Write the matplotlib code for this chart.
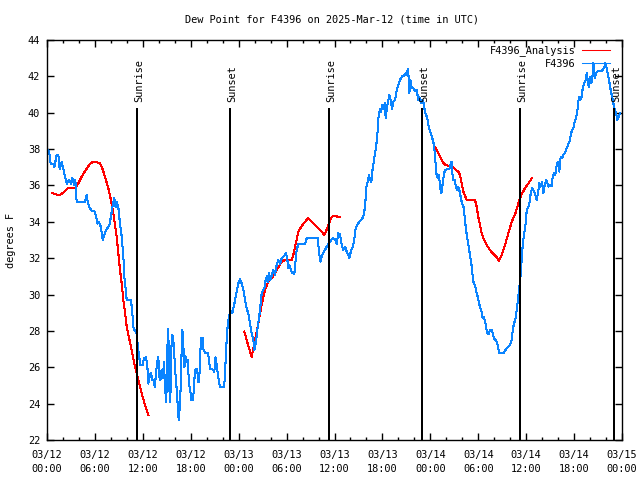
import pandas as pd
import matplotlib
matplotlib.use("Agg")
import matplotlib.pyplot as plt
import matplotlib.dates as mdates
import matplotlib.transforms as mtransforms

plt.rcParams['font.family'] = ['DejaVu Sans Mono']
plt.rcParams['font.size'] = 7.4

INICIO = pd.Timestamp("2025-03-12 00:00")

# observacoes da estacao (horas desde 03/12 00:00 UTC, ponto de orvalho em F)
obs_horas = [
    0.0, 0.25, 0.46, 0.8, 0.92, 1.21, 1.42, 1.59, 1.84, 2.04, 2.25, 2.5, 2.75, 3.0, 3.17, 3.42, 3.55, 3.71,
    4.76, 4.97, 5.1, 5.3, 5.59, 5.93, 6.09, 6.34, 6.5, 6.76, 6.97, 7.18, 7.47, 7.8, 8.01, 8.22, 8.43, 8.6,
    8.75, 8.93, 9.14, 9.35, 9.56, 9.68, 9.85, 9.98, 10.52, 10.68, 10.85, 11.02, 11.2, 11.31, 11.35, 11.52,
    11.65, 11.95, 12.15, 12.4, 12.56, 12.69, 12.85, 13.02, 13.19, 13.36, 13.5, 13.65, 13.81, 13.94, 14.06,
    14.2, 14.35, 14.5, 14.65, 14.78, 14.94, 15.06, 15.19, 15.3, 15.44, 15.56, 15.69, 15.85, 15.98, 16.12,
    16.28, 16.4, 16.49, 16.6, 16.74, 16.86, 16.95, 17.1, 17.2, 17.35, 17.45, 17.6, 17.7, 17.85, 17.98,
    18.03, 18.3, 18.44, 18.6, 18.8, 18.95, 19.05, 19.16, 19.28, 19.5, 19.6, 19.8, 20.1, 20.25, 20.41, 20.7,
    20.95, 21.1, 21.25, 21.4, 21.66, 22.16, 22.28, 22.41, 22.57, 22.75, 22.92, 23.1, 23.2, 23.46, 23.75,
    23.95, 24.17, 24.38, 24.6, 24.8, 25.0, 25.2, 25.42, 25.63, 25.84, 25.96, 26.09, 26.26, 26.38, 26.55,
    26.71, 26.88, 27.05, 27.22, 27.38, 27.55, 27.63, 27.8, 27.97, 28.13, 28.34, 28.55, 28.76, 28.97, 29.18,
    29.39, 29.6, 29.8, 29.93, 30.1, 30.22, 30.39, 30.55, 30.72, 30.97, 31.14, 31.26, 31.47, 32.3, 32.52,
    33.9, 34.06, 34.23, 34.4, 34.6, 34.81, 35.02, 35.23, 35.44, 35.65, 35.85, 36.06, 36.28, 36.48, 36.69,
    36.9, 37.1, 37.32, 37.53, 37.73, 37.85, 38.07, 38.28, 38.44, 38.65, 38.86, 39.1, 39.4, 39.6, 39.73,
    39.86, 39.95, 40.16, 40.32, 40.45, 40.61, 40.73, 40.85, 40.98, 41.11, 41.28, 41.41, 41.53, 41.7, 41.82,
    41.95, 42.11, 42.29, 42.41, 42.54, 42.7, 42.87, 43.04, 43.2, 43.36, 43.58, 43.79, 44.0, 44.2, 44.5,
    44.7, 44.9, 45.05, 45.17, 45.3, 45.37, 45.5, 45.66, 45.87, 46.08, 46.29, 46.5, 46.62, 46.8, 46.95,
    47.12, 47.29, 47.45, 47.6, 47.83, 48.05, 48.25, 48.46, 48.62, 48.8, 48.96, 49.09, 49.21, 49.38, 49.55,
    49.71, 49.88, 50.12, 50.37, 50.55, 50.68, 50.75, 50.88, 51.05, 51.21, 51.38, 51.5, 51.63, 51.8, 51.97,
    52.13, 52.3, 52.47, 52.63, 52.8, 52.97, 53.13, 53.26, 53.38, 53.59, 53.76, 53.93, 54.1, 54.26, 54.43,
    54.56, 54.72, 54.85, 54.97, 55.1, 55.31, 55.47, 55.64, 55.81, 55.97, 56.14, 56.31, 56.47, 56.64, 57.14,
    57.35, 57.56, 57.77, 57.98, 58.19, 58.32, 58.48, 58.64, 58.82, 58.98, 59.1, 59.23, 59.35, 59.48, 59.64,
    59.82, 59.94, 60.07, 60.27, 60.4, 60.57, 60.73, 60.9, 61.11, 61.32, 61.48, 61.65, 61.82, 61.99, 62.15,
    62.32, 62.49, 62.65, 62.82, 62.99, 63.2, 63.32, 63.49, 63.65, 63.83, 63.99, 64.15, 64.32, 64.49, 64.65,
    64.82, 64.99, 65.15, 65.33, 65.49, 65.61, 65.78, 65.9, 66.08, 66.24, 66.4, 66.53, 66.65, 66.74, 66.95,
    67.08, 67.24, 67.41, 67.58, 67.71, 67.83, 68.0, 68.16, 68.33, 68.41, 68.58, 68.74, 68.91, 69.24, 69.49,
    69.74, 69.91, 70.09, 70.25, 70.41, 70.58, 70.75, 70.91, 71.09, 71.25, 71.42, 71.59, 71.76,
]
obs_orvalho = [
    38.0, 37.9, 37.2, 37.2, 37.0, 37.7, 37.7, 36.9, 37.3, 36.9, 36.5, 36.1, 36.3, 36.1, 36.4, 36.0, 36.3, 35.1,
    35.1, 35.5, 35.1, 34.8, 34.6, 34.6, 34.4, 33.9, 34.0, 33.7, 33.0, 33.3, 33.6, 33.8, 34.3, 34.9, 35.3, 34.8,
    35.1, 34.8, 33.9, 33.2, 32.1, 31.0, 30.3, 29.7, 29.7, 29.0, 28.1, 28.0, 27.9, 27.7, 27.0, 26.8,
    26.1, 26.1, 26.5, 26.55, 26.1, 25.1, 25.5, 25.7, 25.3, 25.3, 24.9, 25.7, 26.3, 26.55, 25.5,
    25.3, 25.85, 25.4, 26.3, 24.8, 24.1, 26.95, 28.1, 24.9, 24.1, 27.0, 27.8, 27.3, 26.4, 25.4,
    24.6, 23.6, 23.1, 23.7, 24.9, 26.95, 28.05, 26.95, 26.0, 26.6, 26.3, 26.4, 25.7, 24.9, 24.6,
    24.2, 24.2, 25.3, 25.9, 25.9, 25.2, 25.2, 26.4, 27.6, 27.6, 26.95, 26.8, 26.8, 26.55, 25.9, 25.9,
    25.75, 26.55, 26.1, 25.6, 24.9, 24.9, 25.5, 26.8, 28.05, 28.7, 29.0, 29.1, 28.97, 29.5, 30.16,
    30.6, 30.84, 30.6, 30.25, 29.7, 29.24, 28.97, 28.4, 27.87, 27.5, 26.95, 27.23, 27.7, 28.23, 28.7,
    29.33, 30.07, 30.25, 30.34, 30.8, 31.0, 30.7, 31.2, 30.8, 31.0, 31.35, 31.1, 31.63, 31.9, 31.7,
    32.0, 32.1, 32.17, 32.3, 31.9, 31.45, 31.6, 31.35, 31.17, 31.15, 31.9, 32.45, 32.78, 32.78, 33.09,
    33.09, 32.36, 31.81, 32.08, 32.3, 32.45, 32.63, 32.78, 32.9, 33.04, 33.09, 33.04, 32.8, 33.37, 33.3,
    32.73, 32.45, 32.63, 32.36, 32.18, 32.0, 32.4, 32.63, 32.9, 33.64, 33.83, 34.0, 34.14, 34.28, 34.56,
    35.0, 35.84, 36.2, 36.58, 36.3, 36.2, 36.76, 37.13, 37.5, 37.86, 38.41, 39.05, 39.88, 40.2, 40.05,
    40.43, 40.2, 40.52, 39.7, 40.2, 40.6, 40.98, 40.7, 40.2, 40.6, 40.7, 41.25, 41.53, 41.8, 42.02,
    42.02, 42.17, 42.1, 42.39, 41.9, 41.07, 41.8, 41.4, 41.35, 41.2, 41.25, 40.7, 40.87, 40.55, 40.7,
    40.6, 40.15, 39.88, 39.75, 39.14, 38.87, 38.59, 38.23, 37.4, 36.48, 36.4, 36.6, 35.93, 35.57, 36.1,
    36.67, 36.85, 36.9, 36.9, 37.2, 37.31, 36.67, 36.3, 36.3, 35.93, 35.75, 35.93, 35.75, 35.38, 35.0,
    34.9, 34.28, 33.55, 33.09, 32.63, 32.18, 31.72, 31.17, 30.71, 30.5, 30.16, 29.88, 29.52, 29.24, 29.05,
    28.69, 28.78, 28.5, 28.3, 27.87, 27.85, 28.05, 28.07, 27.87, 27.59, 27.5, 27.41, 27.14, 26.77, 26.77,
    26.92, 27.04, 27.14, 27.23, 27.5, 28.05, 28.42, 28.6, 29.15, 29.79, 30.25, 30.71, 31.26, 32.27, 33.0,
    33.55, 33.92, 34.65, 34.83, 35.0, 35.57, 35.84, 35.75, 35.57, 35.2, 35.57, 36.12, 35.94, 36.2, 35.57,
    36.0, 36.3, 36.12, 35.94, 36.0, 35.97, 36.48, 36.67, 36.58, 37.13, 37.3, 36.76, 37.58, 37.5, 37.68,
    37.77, 37.95, 38.13, 38.32, 38.5, 38.87, 39.05, 39.14, 39.51, 39.69, 40.06, 40.61, 40.88, 40.7, 40.88,
    41.34, 41.62, 41.7, 42.17, 41.8, 41.43, 41.98, 41.62, 42.08, 42.72, 41.9, 42.17, 42.26, 42.3, 42.3,
    42.45, 42.72, 42.45, 42.08, 41.7, 41.25, 40.88, 40.52, 40.15, 39.97, 39.6, 39.78, 39.97,
]

# analise (tres trechos de ~12 h)
ana_horas_1 = [0.67, 1.1, 1.55, 2.05, 2.59, 3.5, 3.92, 4.34, 4.85, 5.3, 5.72, 6.2, 6.64, 6.93, 7.26, 7.68,
               8.01, 8.3, 8.51, 8.73, 8.93, 9.14, 9.35, 9.56, 9.77, 9.98, 10.18, 10.6, 11.02, 11.43, 11.85,
               12.27, 12.69]
ana_orvalho_1 = [35.57, 35.52, 35.46, 35.6, 35.84, 35.84, 36.12, 36.48, 36.85, 37.13, 37.31, 37.28, 37.22,
                 36.94, 36.48, 35.84, 35.2, 34.47, 33.83, 33.18, 32.27, 31.35, 30.62, 29.7, 29.0, 28.23,
                 27.8, 26.95, 26.03, 25.3, 24.57, 23.93, 23.38]
ana_horas_2 = [24.71, 25.0, 25.3, 25.63, 25.84, 26.13, 26.46, 26.88, 27.3, 27.71, 28.13, 28.55, 28.97,
               29.39, 29.8, 30.64, 30.84, 31.06, 31.26, 31.47, 31.89, 32.3, 32.72, 33.14, 33.55, 33.97,
               34.39, 34.73, 35.02, 35.31, 35.65, 36.06, 36.69]
ana_orvalho_2 = [27.96, 27.5, 27.04, 26.58, 27.04, 27.69, 28.42, 29.43, 30.25, 30.71, 30.89, 31.17, 31.5,
                 31.8, 31.9, 31.9, 32.18, 32.63, 33.0, 33.46, 33.77, 34.0, 34.19, 34.0, 33.83, 33.64,
                 33.46, 33.28, 33.58, 33.92, 34.28, 34.32, 34.25]
ana_horas_3 = [48.59, 49.0, 49.42, 49.71, 50.25, 50.68, 51.09, 51.5, 51.71, 51.93, 52.13, 52.56, 53.6,
               53.8, 54.0, 54.22, 54.43, 54.64, 55.05, 55.47, 55.89, 56.31, 56.6, 56.93, 57.35, 57.77,
               58.19, 58.6, 59.02, 59.35, 59.85, 60.27, 60.69]
ana_orvalho_3 = [38.13, 37.77, 37.4, 37.18, 37.07, 37.07, 36.89, 36.76, 36.58, 36.12, 35.66, 35.2, 35.2,
                 34.83, 34.28, 33.83, 33.37, 33.09, 32.73, 32.45, 32.23, 32.05, 31.85, 32.18, 32.73, 33.37,
                 34.0, 34.4, 35.0, 35.45, 35.85, 36.1, 36.39]

# nascer / por do sol
eventos_horas = [11.32, 22.97, 35.3, 46.98, 59.27, 71.02]
eventos_nomes = ["Sunrise", "Sunset", "Sunrise", "Sunset", "Sunrise", "Sunset"]


def para_tempo(horas):
    return INICIO + pd.to_timedelta(horas, unit="h")


fig = plt.figure(figsize=(6.4, 4.8), dpi=100)
ax = fig.add_axes([47 / 640, 40 / 480, 575 / 640, 400 / 480])

cor_ana = "#ff0000"
cor_obs = "#0a84ff"

trechos = [(ana_horas_1, ana_orvalho_1), (ana_horas_2, ana_orvalho_2), (ana_horas_3, ana_orvalho_3)]
for i, (h, v) in enumerate(trechos):
    ax.plot(para_tempo(h), v, color=cor_ana, lw=0.75, antialiased=False,
            label="F4396_Analysis" if i == 0 else None)
ax.plot(para_tempo(obs_horas), obs_orvalho, color=cor_obs, lw=0.75, antialiased=False, label="F4396")

trans = mtransforms.blended_transform_factory(ax.transData, ax.transAxes)
for h, nome in zip(eventos_horas, eventos_nomes):
    t = mdates.date2num(para_tempo(h))
    ax.plot([t, t], [0, 0.8275], transform=trans, color="black", lw=1.1, antialiased=False)
    ax.text(t + 0.012, 0.845, nome, transform=trans, rotation=90, ha="center", va="bottom")

ax.set_xlim(INICIO, INICIO + pd.Timedelta(hours=72))
ax.set_ylim(22, 44)
ax.set_yticks(range(22, 45, 2))
ax.xaxis.set_major_locator(mdates.HourLocator(byhour=range(0, 24, 6)))
ax.xaxis.set_minor_locator(mdates.HourLocator(byhour=range(0, 24, 2)))
ax.xaxis.set_major_formatter(mdates.DateFormatter("%m/%d\n%H:%M"))

ax.tick_params(which="both", direction="in", top=True, right=True, width=1.0)
ax.tick_params(which="major", length=5, pad=5)
ax.tick_params(axis="x", which="major", pad=7)
ax.tick_params(which="minor", length=2.5)
for lab in ax.get_xticklabels():
    lab.set_linespacing(1.5)
for sp in ax.spines.values():
    sp.set_linewidth(1.0)

leg = ax.legend(loc="upper right", bbox_to_anchor=(1 - 7 / 575, 1.0), frameon=False, markerfirst=False,
                handlelength=2.7, handletextpad=0.6, labelspacing=0.25, borderaxespad=0.4, borderpad=0.1)

fig.text(332 / 640, 1 - 19 / 480, "Dew Point for F4396 on 2025-Mar-12 (time in UTC)",
         ha="center", va="center")
fig.text(11 / 640, 0.5, "degrees F", rotation=90, ha="center", va="center")

fig.savefig("out.png", dpi=100)
